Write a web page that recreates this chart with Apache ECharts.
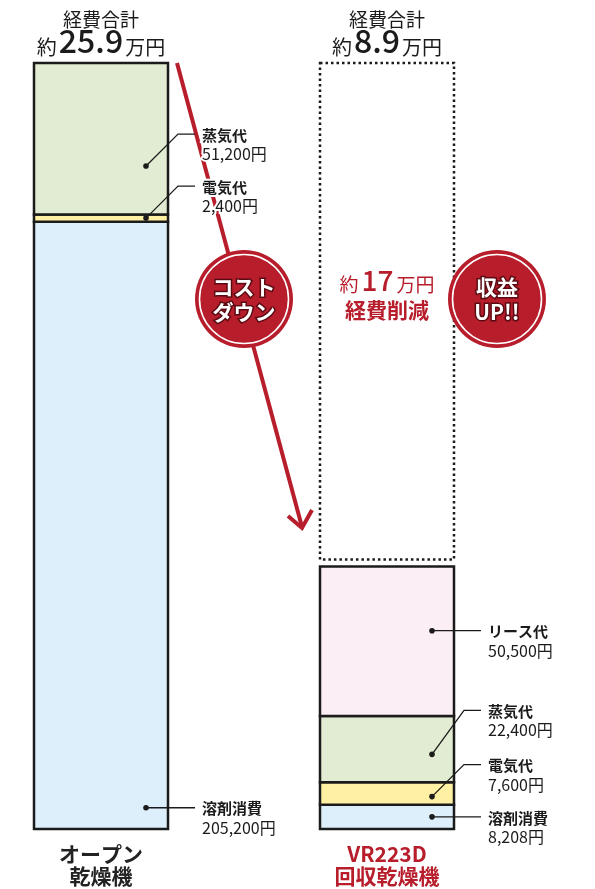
<!DOCTYPE html>
<html>
<head>
<meta charset="utf-8">
<script src="https://cdn.jsdelivr.net/npm/echarts@6/dist/echarts.min.js"></script>
<style>
  html, body { margin: 0; padding: 0; background: #fff; }
  #chart { width: 595px; height: 889px; }
</style>
</head>
<body>
<div id="chart"></div>
<script>
// Machines compared and their yearly running costs (yen)
const machineNames = ['オープン乾燥機', 'VR223D'];
const machineLabelLines = [['オープン', '乾燥機'], ['VR223D', '回収乾燥機']];
const costNames = ['溶剤消費', '電気代', '蒸気代', 'リース代'];
const solventCost = [205200, 8208];
const electricityCost = [2400, 7600];
const steamCost = [51200, 22400];
const leaseCost = [null, 50500];

// Captions
const totalHeading = '経費合計';
const reductionHeading = '経費削減';
const badgeLeftLines = ['コスト', 'ダウン'];
const badgeRightLines = ['収益', 'UP!!'];

// ---- styling ----
const FONT = '"Noto Sans CJK JP", "Noto Sans", sans-serif';
const INK = '#1b1b1b';
const RED = '#B71D2B';
const BAR_W = 134;
const segColors = ['#DDEFFA', '#FFF0A3', '#E2ECD2', '#FCEEF5'];

const costSeries = [solventCost, electricityCost, steamCost, leaseCost];
const totals = machineNames.map((_, i) => costSeries.reduce((s, arr) => s + (arr[i] || 0), 0));
const axisMax = Math.max(...totals);

function yen(v) {
  return String(v).replace(/\B(?=(\d{3})+(?!\d))/g, ',') + '円';
}

// Callout anchor: fraction up the segment for the dot, and how far the label line rises above it
const calloutPlace = {
  '0-0': [0.035, 0], '0-1': [0.5, -32], '0-2': [0.32, -32],
  '1-0': [0.5, 0], '1-1': [0.36, -32], '1-2': [0.42, -44], '1-3': [0.57, 0]
};

// Stacked segments: [machine index, stacked base, value, cost index]
const segmentData = [];
machineNames.forEach((_, i) => {
  let base = 0;
  costSeries.forEach((arr, k) => {
    const v = arr[i];
    if (v != null) {
      segmentData.push([i, base, v, k]);
      base += v;
    }
  });
});

const chart = echarts.init(document.getElementById('chart'), null, { renderer: 'canvas' });

// Stacked bars, each segment outlined in black
const barSeries = {
  type: 'custom',
  z: 3,
  silent: true,
  data: segmentData,
  encode: { x: 0, y: [1, 2] },
  renderItem(params, api) {
    const i = api.value(0), base = api.value(1), v = api.value(2), k = api.value(3);
    const p0 = api.coord([i, base]);
    const p1 = api.coord([i, base + v]);
    return {
      type: 'rect',
      shape: { x: p0[0] - BAR_W / 2, y: p1[1], width: BAR_W, height: p0[1] - p1[1] },
      style: { fill: segColors[k], stroke: INK, lineWidth: 2.5 }
    };
  }
};

// Empty dotted box showing the saved amount above the second bar
const savingSeries = {
  type: 'custom',
  z: 2,
  silent: true,
  data: [[1, totals[1], totals[0]]],
  renderItem(params, api) {
    const i = api.value(0), lo = api.value(1), hi = api.value(2);
    const a = api.coord([i, hi]);
    const b = api.coord([i, lo]);
    const x0 = a[0] - BAR_W / 2;
    const y0 = a[1];
    const y1 = b[1] - 7;
    const saved = Math.round((hi - lo) / 10000);
    return {
      type: 'group',
      children: [
        {
          type: 'rect',
          shape: { x: x0, y: y0, width: BAR_W, height: y1 - y0 },
          style: { fill: 'none', stroke: INK, lineWidth: 2.5, lineDash: [2.5, 3] }
        },
        {
          type: 'text',
          x: a[0], y: y0 + 231,
          style: {
            text: '{s|約}{n|' + saved + '}{s|万円}',
            align: 'center', verticalAlign: 'bottom',
            rich: {
              s: { fill: RED, fontSize: 19, fontFamily: FONT, verticalAlign: 'bottom' },
              n: { fill: RED, fontSize: 28, fontFamily: FONT, fontWeight: 500, verticalAlign: 'bottom', padding: [0, 3, 0, 3] }
            }
          }
        },
        {
          type: 'text',
          x: a[0], y: y0 + 247,
          style: {
            text: reductionHeading, fill: RED, font: 'bold 21px ' + FONT,
            align: 'center', verticalAlign: 'middle'
          }
        }
      ]
    };
  }
};

// Totals printed above each bar
const totalSeries = {
  type: 'custom',
  z: 6,
  silent: true,
  data: totals.map((t, i) => [i, t]),
  renderItem(params, api) {
    const i = api.value(0), t = api.value(1);
    const top = api.coord([i, axisMax]);
    return {
      type: 'group',
      children: [
        {
          type: 'text', x: top[0], y: top[1] - 43,
          style: { text: totalHeading, fill: INK, font: '19px ' + FONT, align: 'center', verticalAlign: 'middle' }
        },
        {
          type: 'text', x: top[0], y: top[1] - 6,
          style: {
            text: '{s|約}{n|' + (t / 10000).toFixed(1) + '}{s|万円}',
            align: 'center', verticalAlign: 'bottom',
            rich: {
              s: { fill: INK, fontSize: 20, fontFamily: FONT, verticalAlign: 'bottom' },
              n: { fill: INK, fontSize: 32, fontFamily: FONT, fontWeight: 500, verticalAlign: 'bottom', padding: [0, 2, 0, 2] }
            }
          }
        }
      ]
    };
  }
};

// Callouts: dot inside the segment, leader line, name and amount
const calloutSeries = {
  type: 'custom',
  z: 6,
  silent: true,
  data: segmentData,
  renderItem(params, api) {
    const i = api.value(0), base = api.value(1), v = api.value(2), k = api.value(3);
    const place = calloutPlace[i + '-' + k];
    const pt = api.coord([i, base + v * place[0]]);
    const right = pt[0] + BAR_W / 2;
    const dotX = right - 22, dotY = pt[1];
    const ly = dotY + place[1];
    const points = place[1]
      ? [[dotX, dotY], [right + 10, ly], [right + 27, ly]]
      : [[dotX, dotY], [right + 27, ly]];
    return {
      type: 'group',
      children: [
        { type: 'polyline', shape: { points }, style: { stroke: INK, lineWidth: 1.3, fill: null } },
        { type: 'circle', shape: { cx: dotX, cy: dotY, r: 2.8 }, style: { fill: INK } },
        {
          type: 'text', x: right + 34, y: ly + 1,
          style: {
            text: costNames[k], fill: INK, font: 'bold 15px ' + FONT,
            align: 'left', verticalAlign: 'middle', stroke: '#fff', lineWidth: 4
          }
        },
        {
          type: 'text', x: right + 34, y: ly + 20,
          style: {
            text: yen(v), fill: INK, font: '16px ' + FONT,
            align: 'left', verticalAlign: 'middle', stroke: '#fff', lineWidth: 4
          }
        }
      ]
    };
  }
};

function badge(cx, cy, lines) {
  const textStyle = (t) => ({
    text: t, fill: '#fff', font: 'bold 21px ' + FONT,
    stroke: '#5a0a12', lineWidth: 3,
    align: 'center', verticalAlign: 'middle', textAlign: 'center', textVerticalAlign: 'middle'
  });
  return {
    type: 'group', z: 20,
    children: [
      { type: 'circle', z: 20, shape: { cx, cy, r: 49 }, style: { fill: RED } },
      { type: 'circle', z: 21, shape: { cx, cy, r: 44.5 }, style: { fill: 'none', stroke: '#fff', lineWidth: 1.6 } },
      { type: 'text', z: 22, x: cx, y: cy - 12, style: textStyle(lines[0]) },
      { type: 'text', z: 22, x: cx, y: cy + 13, style: textStyle(lines[1]) }
    ]
  };
}

chart.setOption({
  animation: false,
  backgroundColor: '#fff',
  grid: { left: -42, width: 572, top: 63, bottom: 60, containLabel: false, outerBoundsMode: 'none' },
  xAxis: {
    type: 'category',
    data: machineNames,
    axisLine: { show: false },
    axisTick: { show: false },
    splitLine: { show: false },
    axisLabel: {
      interval: 0,
      margin: 14,
      lineHeight: 22,
      formatter: (value, idx) => {
        const tag = idx === 0 ? 'a' : 'b';
        return machineLabelLines[idx].map(s => '{' + tag + '|' + s + '}').join('\n');
      },
      rich: {
        a: { color: '#222', fontSize: 21, fontWeight: 'bold', fontFamily: FONT, lineHeight: 22 },
        b: { color: RED, fontSize: 21, fontWeight: 'bold', fontFamily: FONT, lineHeight: 22 }
      }
    }
  },
  yAxis: { type: 'value', min: 0, max: axisMax, show: false },
  graphic: [
    // red arrow from the first bar down to the second
    {
      type: 'polyline', z: 1, silent: true,
      shape: { points: [[177, 63], [302, 527]] },
      style: { stroke: RED, lineWidth: 4, fill: null }
    },
    {
      type: 'polyline', z: 1, silent: true,
      shape: { points: [[288, 516], [302, 528], [312, 510]] },
      style: { stroke: RED, lineWidth: 4, fill: null, lineJoin: 'miter' }
    },
    badge(244, 299, badgeLeftLines),
    badge(497, 299, badgeRightLines)
  ],
  series: [barSeries, savingSeries, totalSeries, calloutSeries]
});
</script>
</body>
</html>
